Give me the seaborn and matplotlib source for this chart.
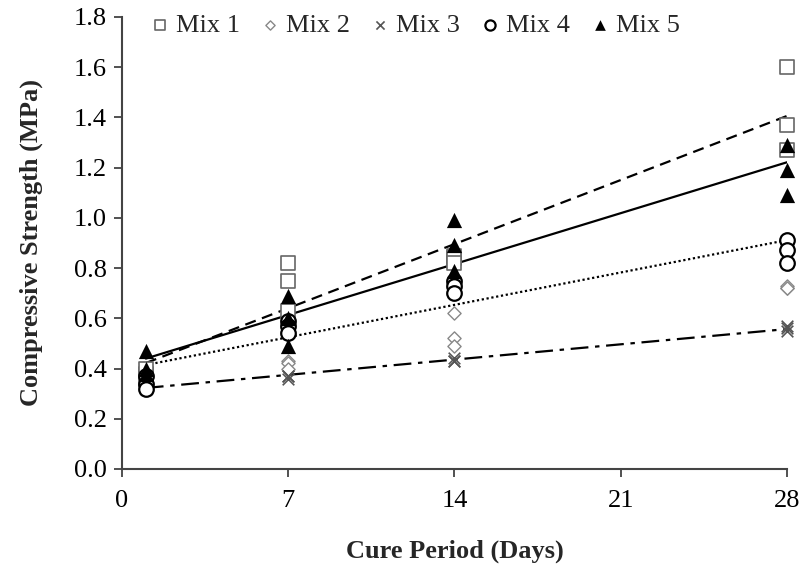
import numpy as np
import pandas as pd
import seaborn as sns
from matplotlib import pyplot as plt

days = [1, 1, 1, 7, 7, 7, 14, 14, 14, 28, 28, 28]
mix1 = [0.38, 0.40, 0.36, 0.82, 0.75, 0.63, 0.85, 0.84, 0.82, 1.60, 1.37, 1.27]
mix2 = [0.35, 0.36, 0.34, 0.43, 0.42, 0.40, 0.62, 0.52, 0.49, 0.72, 0.73, 0.72]
mix3 = [0.33, 0.34, 0.32, 0.37, 0.37, 0.36, 0.43, 0.44, 0.43, 0.57, 0.56, 0.55]
mix4 = [0.37, 0.34, 0.32, 0.59, 0.57, 0.54, 0.75, 0.73, 0.70, 0.91, 0.87, 0.82]
mix5 = [0.47, 0.40, 0.38, 0.69, 0.60, 0.49, 0.99, 0.89, 0.79, 1.29, 1.19, 1.09]

x_ticks = [0, 7, 14, 21, 28]
y_ticks = [0.0, 0.2, 0.4, 0.6, 0.8, 1.0, 1.2, 1.4, 1.6, 1.8]

sns.set_style("ticks")
plt.rcParams["font.family"] = ["Liberation Serif", "DejaVu Serif"]

fig = plt.figure(figsize=(8.03, 5.65), dpi=100)
ax = fig.add_axes([0.152, 0.17, 0.828, 0.80])

df = pd.DataFrame({"day": days, "Mix 1": mix1, "Mix 2": mix2, "Mix 3": mix3, "Mix 4": mix4, "Mix 5": mix5})

# trend lines (no trend for mix 2)
trends = [("Mix 1", (0, (5, 3))), ("Mix 3", (0, (8, 3, 2, 3))), ("Mix 4", (0, (1, 1.2))), ("Mix 5", "-")]
for name, ls in trends:
    sns.regplot(data=df, x="day", y=name, scatter=False, ci=None, ax=ax,
                line_kws=dict(color="black", linestyle=ls, linewidth=1.6))

styles = {
    "Mix 1": dict(marker="s", facecolors="white", edgecolors="#666666", s=95, linewidths=1.2),
    "Mix 2": dict(marker="D", facecolors="white", edgecolors="#888888", s=45, linewidths=1.0),
    "Mix 3": dict(marker="x", color="#555555", s=70, linewidths=1.2),
    "Mix 4": dict(marker="o", facecolors="white", edgecolors="black", s=110, linewidths=1.6),
    "Mix 5": dict(marker="^", color="black", s=120, linewidths=0),
}
for name, kw in styles.items():
    sns.scatterplot(data=df, x="day", y=name, ax=ax, label=name, zorder=3, **kw)

ax.set_xlim(0, 28)
ax.set_ylim(0, 1.8)
ax.set_xticks(x_ticks)
ax.set_yticks(y_ticks)
ax.set_yticklabels([f"{v:.1f}" for v in y_ticks])
ax.tick_params(labelsize=19, colors="#333333", labelcolor="black", length=6, width=1.2, pad=5)
ax.tick_params(axis="x", pad=9)
for sp in ["left", "bottom"]:
    ax.spines[sp].set_color("#444444")
    ax.spines[sp].set_linewidth(1.5)
sns.despine(ax=ax)

ax.set_xlabel("Cure Period (Days)", fontsize=19, fontweight="bold", labelpad=20)
ax.set_ylabel("Compressive Strength (MPa)", fontsize=19, fontweight="bold", labelpad=22)

leg = ax.legend(loc="upper left", bbox_to_anchor=(0.045, 1.008), ncol=5, frameon=False,
                fontsize=19, handlelength=0.6, handletextpad=0.3, columnspacing=0.85,
                borderpad=0, borderaxespad=0, markerscale=0.7)

for coll in ax.collections:
    coll.set_clip_on(False)

fig.savefig("out.png", dpi=100)
